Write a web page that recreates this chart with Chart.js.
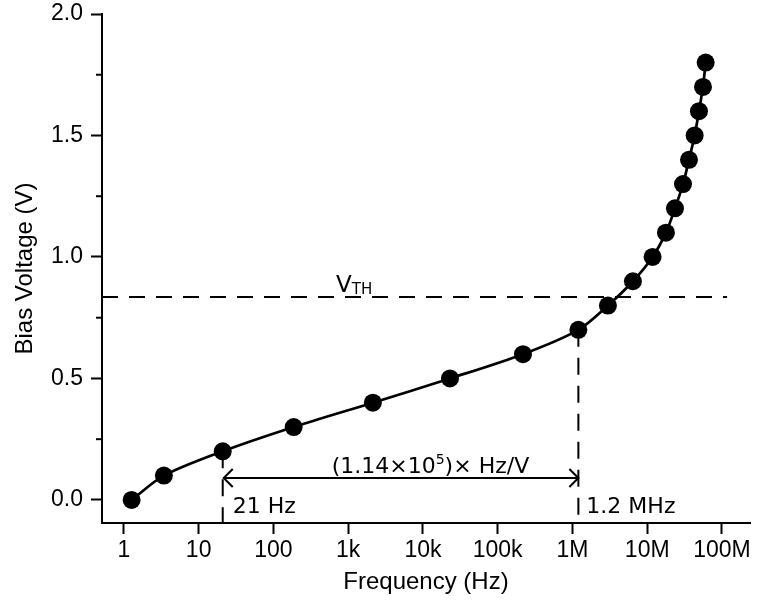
<!DOCTYPE html>
<html>
<head>
<meta charset="utf-8">
<script src="https://cdn.jsdelivr.net/npm/chart.js@4"></script>
<style>
  body { margin: 0; background: #fff; }
  #wrap { width: 759px; height: 610px; }
</style>
</head>
<body>
<div id="wrap"><canvas id="biasChart"></canvas></div>
<script>
const freqHz = [1.27, 3.43, 21, 187, 2140, 23000, 218000, 1.2e6, 2.98e6, 6.44e6,
                11.8e6, 17.8e6, 23.5e6, 30.1e6, 36.2e6, 43.1e6, 49.2e6, 55.7e6, 60.5e6];
const biasV = [0.0, 0.1, 0.2, 0.3, 0.4, 0.5, 0.6, 0.7, 0.8, 0.9,
               1.0, 1.1, 1.2, 1.3, 1.4, 1.5, 1.6, 1.7, 1.8];

// Axis ticks
const xTickValues = [1, 10, 100, 1e3, 1e4, 1e5, 1e6, 1e7, 1e8];
const xTickLabels = ['1', '10', '100', '1k', '10k', '100k', '1M', '10M', '100M'];
const yTickValues = [0, 0.5, 1.0, 1.5, 2.0];
const yMinorTicks = [0.25, 0.75, 1.25, 1.75];

// Annotation values
const vThreshold = 0.835;
const lowFreq = 21;       // Hz
const highFreq = 1.2e6;   // Hz
const arrowV = 0.09;
const vthLineEnd = 1.17e8;
const xRange = [0.51, 2.37e8];
const yRange = [-0.095, 2.0];

const axisFont = { family: "'Liberation Sans', Arial, sans-serif", size: 23 };
const noteFont = "22px 'DejaVu Sans', sans-serif";

// Draws minor ticks, the double arrow and the text notes
const annotationPlugin = {
    id: 'annotations',
    afterDraw(chart) {
        const ctx = chart.ctx;
        const x = chart.scales.x;
        const y = chart.scales.y;
        ctx.save();
        ctx.strokeStyle = '#000';
        ctx.fillStyle = '#000';
        ctx.lineWidth = 2;

        // minor ticks on the y axis
        yMinorTicks.forEach(v => {
            const py = y.getPixelForValue(v);
            ctx.beginPath();
            ctx.moveTo(x.left - 6, py);
            ctx.lineTo(x.left, py);
            ctx.stroke();
        });

        // double arrow between the two frequencies
        const x1 = x.getPixelForValue(lowFreq) + 1;
        const x2 = x.getPixelForValue(highFreq);
        const py = y.getPixelForValue(arrowV);
        ctx.beginPath();
        ctx.moveTo(x1, py);
        ctx.lineTo(x2, py);
        ctx.moveTo(x1 + 9, py - 9);
        ctx.lineTo(x1, py);
        ctx.lineTo(x1 + 9, py + 9);
        ctx.moveTo(x2 - 9, py - 9);
        ctx.lineTo(x2, py);
        ctx.lineTo(x2 - 9, py + 9);
        ctx.stroke();

        // slope label with superscript
        ctx.font = noteFont;
        ctx.textBaseline = 'alphabetic';
        let tx = x1 + 108;
        const ty = py - 5;
        ctx.fillText('(1.14\u00d710', tx, ty);
        tx += ctx.measureText('(1.14\u00d710').width;
        ctx.font = "14px 'DejaVu Sans', sans-serif";
        ctx.fillText('5', tx, ty - 9);
        tx += ctx.measureText('5').width;
        ctx.font = noteFont;
        ctx.fillText(')\u00d7 Hz/V', tx, ty);

        // frequency labels
        ctx.fillText('21 Hz', x1 + 9, y.bottom - 10);
        ctx.fillText('1.2 MHz', x2 + 8, y.bottom - 10);

        // threshold label
        const vy = y.getPixelForValue(vThreshold) - 5;
        ctx.font = "23px 'DejaVu Sans', sans-serif";
        ctx.fillText('V', x.left + 234, vy);
        const vw = ctx.measureText('V').width;
        ctx.font = "15px 'DejaVu Sans', sans-serif";
        ctx.fillText('TH', x.left + 234 + vw, vy + 2);
        ctx.restore();
    }
};

const curvePoints = freqHz.map((f, i) => ({ x: f, y: biasV[i] }));

new Chart(document.getElementById('biasChart'), {
    type: 'line',
    data: {
        datasets: [
            {
                data: curvePoints,
                borderColor: '#000',
                backgroundColor: '#000',
                borderWidth: 2.7,
                tension: 0.3,
                pointRadius: 9,
                pointBorderWidth: 0,
                pointBackgroundColor: '#000'
            },
            {
                // threshold voltage
                data: [{ x: xRange[0], y: vThreshold }, { x: vthLineEnd, y: vThreshold }],
                borderColor: '#000',
                borderWidth: 2,
                borderDash: [16, 11],
                pointRadius: 0
            },
            {
                data: [{ x: lowFreq, y: biasV[2] }, { x: lowFreq, y: yRange[0] }],
                borderColor: '#000',
                borderWidth: 2,
                borderDash: [17, 11],
                pointRadius: 0
            },
            {
                data: [{ x: highFreq, y: biasV[7] }, { x: highFreq, y: yRange[0] }],
                borderColor: '#000',
                borderWidth: 2,
                borderDash: [17, 11],
                pointRadius: 0
            }
        ]
    },
    options: {
        responsive: true,
        maintainAspectRatio: false,
        animation: false,
        layout: { padding: { top: 14, right: 6, left: 0, bottom: 0 } },
        plugins: {
            legend: { display: false },
            tooltip: { enabled: false }
        },
        scales: {
            x: {
                type: 'logarithmic',
                min: xRange[0],
                max: xRange[1],
                afterBuildTicks: scale => {
                    scale.ticks = xTickValues.map(v => ({ value: v }));
                },
                afterFit: scale => { scale.height = 87; },
                ticks: {
                    color: '#000',
                    font: axisFont,
                    padding: 3,
                    maxRotation: 0,
                    autoSkip: false,
                    callback: (val, idx) => xTickLabels[idx]
                },
                grid: {
                    display: true,
                    drawOnChartArea: false,
                    drawTicks: true,
                    tickLength: 11,
                    tickWidth: 2,
                    tickColor: '#000'
                },
                border: { display: true, color: '#000', width: 2 },
                title: {
                    display: true,
                    text: 'Frequency (Hz)',
                    color: '#000',
                    font: { family: axisFont.family, size: 24 },
                    padding: { top: 13, bottom: 13 }
                }
            },
            y: {
                min: yRange[0],
                max: yRange[1],
                afterBuildTicks: scale => {
                    scale.ticks = yTickValues.map(v => ({ value: v }));
                },
                afterFit: scale => {
                    scale.width = 102;
                    scale.paddingTop = 0;
                    scale.paddingBottom = 0;
                },
                ticks: {
                    color: '#000',
                    font: axisFont,
                    padding: 8,
                    callback: val => val.toFixed(1)
                },
                grid: {
                    display: true,
                    drawOnChartArea: false,
                    drawTicks: true,
                    tickLength: 11,
                    tickWidth: 2,
                    tickColor: '#000'
                },
                border: { display: true, color: '#000', width: 2 },
                title: {
                    display: true,
                    text: 'Bias Voltage (V)',
                    color: '#000',
                    font: { family: axisFont.family, size: 24 },
                    padding: { top: 11, bottom: 11 }
                }
            }
        }
    },
    plugins: [annotationPlugin]
});
</script>
</body>
</html>
